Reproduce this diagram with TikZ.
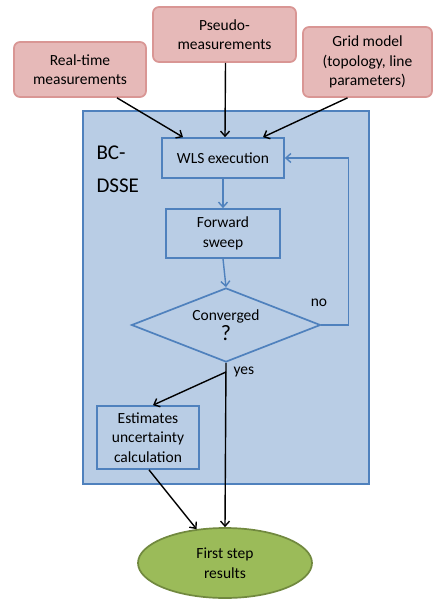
\documentclass[tikz,border=0pt]{standalone}
\usepackage{fontspec}
\setmainfont{Carlito}
\usetikzlibrary{shapes.geometric,arrows.meta,calc}
\definecolor{pinkfill}{HTML}{E6B9B8}
\definecolor{pinkline}{HTML}{D99694}
\definecolor{bluefill}{HTML}{B9CDE5}
\definecolor{blueline}{HTML}{4F81BD}
\definecolor{greenfill}{HTML}{9BBB59}
\definecolor{greenline}{HTML}{71893F}
\begin{document}
\begin{tikzpicture}[x=1pt,y=-1pt,
  every node/.style={font=\fontsize{15.5}{19.5}\selectfont, align=center},
  inbox/.style={rectangle, rounded corners=6pt, draw=pinkline, line width=1.7pt, fill=pinkfill, inner sep=0pt},
  stepbox/.style={rectangle, draw=blueline, line width=1.7pt, fill=bluefill, inner sep=0pt},
  blk/.style={draw=black, line width=1.4pt, -{Straight Barb[length=5pt,width=9pt]}},
  blu/.style={draw=blueline, line width=1.4pt, -{Straight Barb[length=5pt,width=9pt]}}]
\useasboundingbox (0,0) rectangle (433,599);
% big container
\node[stepbox, minimum width=286, minimum height=373, anchor=north west] (bc) at (82,110) {};
\node[font=\fontsize{21}{33}\selectfont, align=left, anchor=north west] (lbl) at (93,142) {BC-\\DSSE};
% inputs
\node[inbox, minimum width=132, minimum height=55] (rt) at (80,69.5) {Real-time\\measurements};
\node[inbox, minimum width=143, minimum height=55] (ps) at (224.5,34.5) {Pseudo-\\measurements};
\node[inbox, minimum width=129, minimum height=70] (gm) at (367.5,62) {Grid model\\(topology, line\\parameters)};
% steps
\node[stepbox, minimum width=122, minimum height=40] (wls) at (223,158) {WLS execution};
\node[stepbox, minimum width=114, minimum height=49] (fs) at (223,233.5) {Forward\\sweep};
\node[diamond, draw=blueline, line width=1.7pt, fill=bluefill, inner sep=0pt, aspect=2.55,
      minimum width=189, minimum height=74] (dia) at (226,325) {Converged\\[0pt]{\fontsize{22}{22}\selectfont ?}};
\node[stepbox, minimum width=102, minimum height=63] (est) at (148,437.5) {Estimates\\uncertainty\\calculation};
\node[ellipse, draw=greenline, line width=1.7pt, fill=greenfill, inner sep=0pt,
      minimum width=174, minimum height=70] (ell) at (225,563) {First step\\results};
% connectors
\draw[blk] ([xshift=37]rt.south) -- ([xshift=-40]wls.north);
\draw[blk] ([xshift=1]ps.south) -- ([xshift=2]wls.north);
\draw[blk] ([xshift=-20]gm.south) -- ([xshift=40]wls.north);
\draw[blu] (wls.south) -- (fs.north);
\draw[blu] (fs.south) -- (dia.north);
\draw[blu] (dia.east) -- ++(27,0) |- (wls.east);
\node[anchor=center] (no) at (319,303) {no};
\draw[blk] (dia.south) -- (ell.north);
\coordinate (ys) at (226,372);
\node[anchor=west] (yes) at (230,372) {yes};
\draw[blk] (ys) -- ([xshift=5]est.north);
\draw[blk] ([xshift=1]est.south) -- (ell.130);
\end{tikzpicture}
\end{document}
